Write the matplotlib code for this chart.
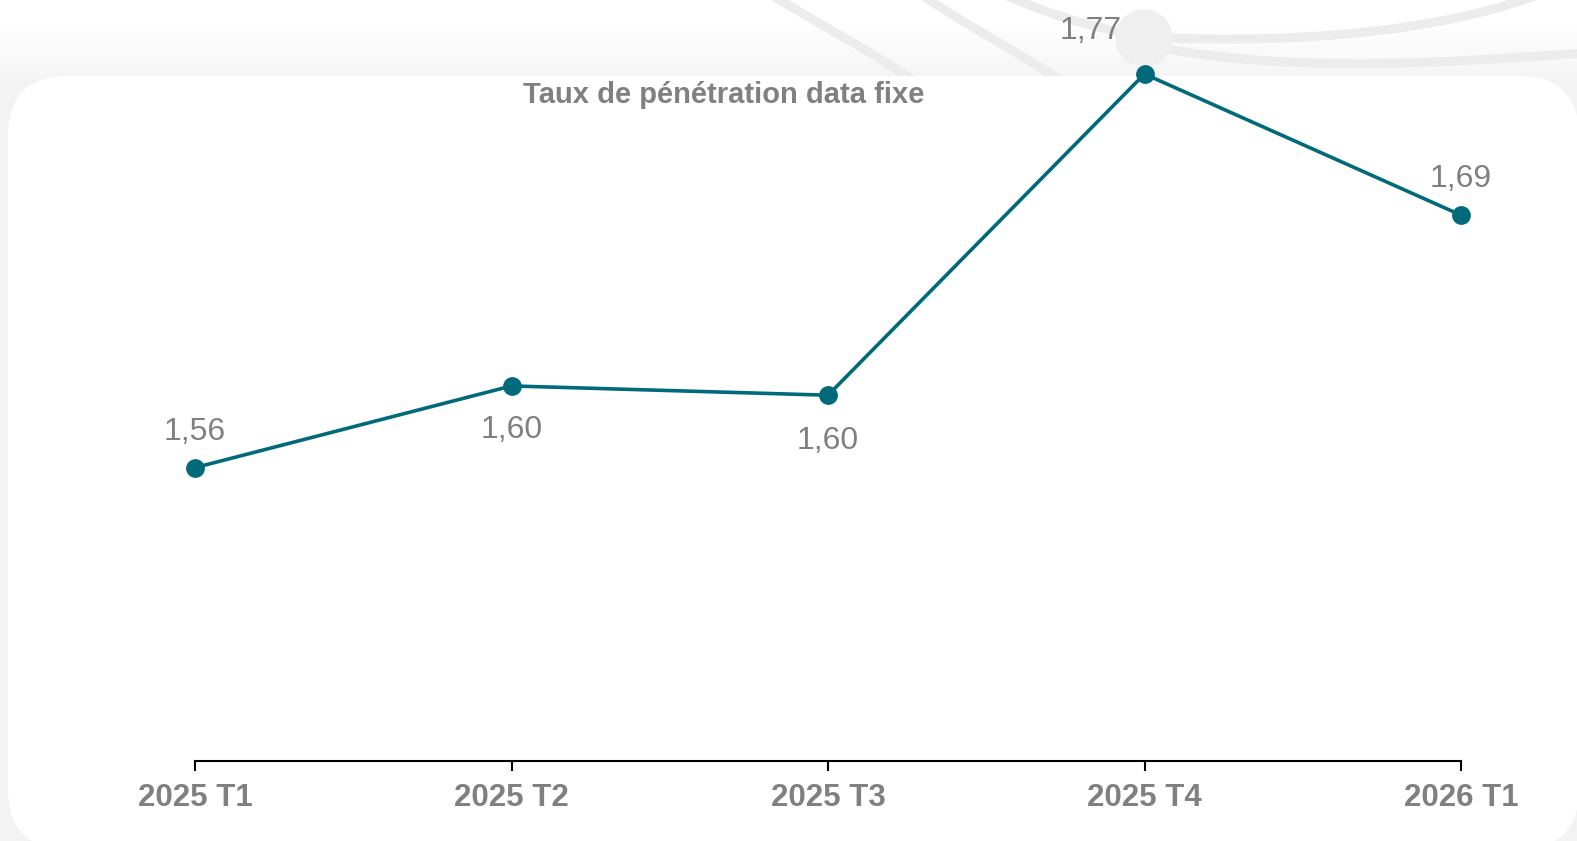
import matplotlib.pyplot as plt
import numpy as np
from matplotlib.patches import FancyBboxPatch, Circle, PathPatch
from matplotlib.path import Path

plt.rcParams['font.family'] = ['Liberation Sans', 'DejaVu Sans']

# data
quarters = ['2025 T1', '2025 T2', '2025 T3', '2025 T4', '2026 T1']
values = [1.558, 1.602, 1.597, 1.77, 1.694]
title = 'Taux de pénétration data fixe'

# label offsets (points) for each value label
label_offsets = [(0, 26), (0, -32), (0, -33), (-39, 31), (0, 26)]

W, H = 1577, 841
teal = '#006a7b'
grey = '#808080'

fig = plt.figure(figsize=(W / 100, H / 100), dpi=100)

# background layer in pixel coords
bg = fig.add_axes([0, 0, 1, 1])
bg.set_xlim(0, W)
bg.set_ylim(H, 0)
bg.axis('off')
grad = np.full((H, 1), 0.955)
grad[:25, 0] = 1.0
grad[25:78, 0] = np.linspace(0.995, 0.958, 53)
bg.imshow(grad, cmap='gray', vmin=0, vmax=1, extent=[0, W, H, 0], aspect='auto', zorder=0)

def arc(p0, c1, c2, p1, lw=6.5):
    path = Path([p0, c1, c2, p1], [Path.MOVETO, Path.CURVE4, Path.CURVE4, Path.CURVE4])
    bg.add_patch(PathPatch(path, fill=False, edgecolor='#ececec', lw=lw, zorder=1))

arc((772, -5), (820, 25), (870, 50), (920, 85))
arc((922, -5), (965, 25), (1015, 50), (1068, 85))
arc((1005, -5), (1050, 15), (1095, 28), (1140, 36))
arc((1150, 37), (1300, 45), (1450, 30), (1545, -8))
arc((1150, 46), (1300, 75), (1450, 62), (1600, 52))
bg.add_patch(Circle((1144, 38), 28, color='#efefef', zorder=2))

card = FancyBboxPatch((8, 76), W - 6, H - 76 + 8, boxstyle='round,pad=0,rounding_size=60',
                      facecolor='white', edgecolor='none', zorder=3)
bg.add_patch(card)

# main chart
x0, x1 = 195, 1461
ybot, ytop = 761, 74
ax = fig.add_axes([x0 / W, 1 - ybot / H, (x1 - x0) / W, (ybot - ytop) / H])
ax.patch.set_alpha(0)
xs = np.arange(len(quarters))
ax.plot(xs, values, color=teal, lw=2.6, marker='o', markersize=12.5, clip_on=False, zorder=5)
ax.set_xlim(0, len(quarters) - 1)
ax.set_ylim(1.4, 1.77)

for i, v in enumerate(values):
    ax.annotate(f'{v:.2f}'.replace('.', ','), (xs[i], v), xytext=label_offsets[i],
                textcoords='offset points', ha='center', va='center',
                fontsize=23, color=grey, annotation_clip=False)

for s in ['left', 'right', 'top']:
    ax.spines[s].set_visible(False)
ax.spines['bottom'].set_linewidth(1.5)
ax.set_yticks([])
ax.set_xticks(xs)
ax.set_xticklabels(quarters, fontsize=22.5, fontweight='bold', color=grey)
ax.tick_params(axis='x', length=7, width=1.5, color='black', pad=9)

fig.text(724 / W, 1 - 95 / H, title, ha='center', va='center', fontsize=21,
         fontweight='bold', color=grey)

fig.savefig('out.png', dpi=100)
